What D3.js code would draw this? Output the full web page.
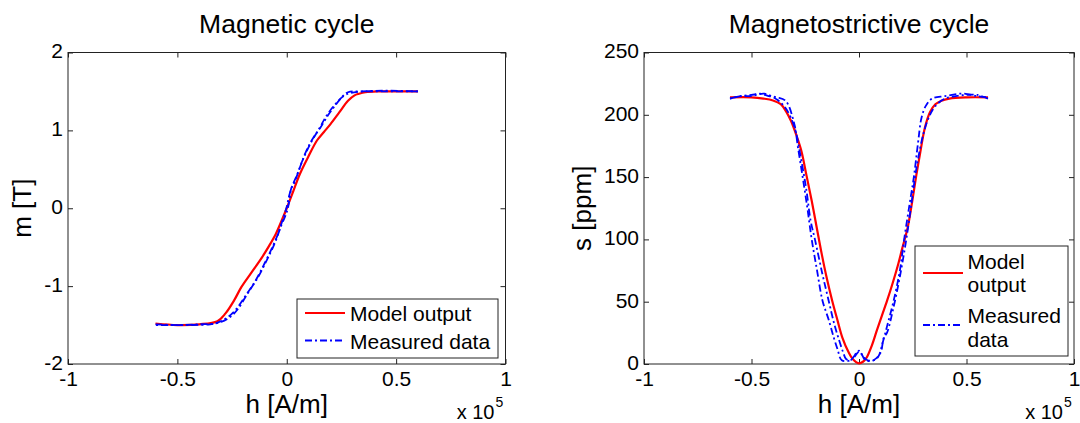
<!DOCTYPE html>
<html>
<head>
<meta charset="utf-8">
<script src="https://cdn.jsdelivr.net/npm/d3@7"></script>
<style>
  body { margin: 0; background: #fff; }
  svg { font-family: "Liberation Sans", Arial, Helvetica, sans-serif; }
</style>
</head>
<body>
<div id="chart"></div>
<script>
// axis ticks
const hTicks = [-1e5, -0.5e5, 0, 0.5e5, 1e5];
const mTicks = [-2, -1, 0, 1, 2];
const sTicks = [0, 50, 100, 150, 200, 250];

// magnetic cycle: [h (A/m), m (T)]
const magModel = [
    [-60000, -1.48], [-50000, -1.50], [-40000, -1.49], [-31700, -1.45], [-28000, -1.35],
    [-24000, -1.18], [-20700, -1.01], [-16000, -0.82], [-11300, -0.63], [-8000, -0.48],
    [-5000, -0.33], [-2500, -0.17], [0, 0.0], [3000, 0.22], [6000, 0.44], [10000, 0.67],
    [13800, 0.87], [17000, 0.98], [20000, 1.08], [24000, 1.23], [28000, 1.38],
    [31000, 1.45], [33000, 1.47], [36000, 1.49], [42000, 1.50], [60000, 1.50]
];
const magMeasUp = [
    [-60000, -1.49], [-50000, -1.50], [-40000, -1.49], [-33000, -1.48], [-30000, -1.45],
    [-27000, -1.40], [-23500, -1.31], [-19000, -1.13], [-14100, -0.92], [-10000, -0.70],
    [-6600, -0.50], [-4000, -0.33], [-1900, -0.15], [0, 0.02], [1000, 0.15], [2300, 0.27],
    [5000, 0.45], [9000, 0.74], [12000, 0.90], [15500, 1.04], [19000, 1.20], [21600, 1.30],
    [25000, 1.42], [28000, 1.49], [34000, 1.50], [45000, 1.51], [60000, 1.50]
];
const magMeasDown = [
    [60000, 1.50], [45000, 1.50], [35000, 1.50], [29000, 1.48], [26000, 1.44], [22000, 1.33],
    [18000, 1.18], [15000, 1.03], [11000, 0.84], [7000, 0.60], [3500, 0.33], [2000, 0.25],
    [1200, 0.10], [0, -0.05], [-2500, -0.22], [-5500, -0.45], [-9000, -0.66], [-13000, -0.88],
    [-18000, -1.10], [-22500, -1.30], [-26000, -1.40], [-30000, -1.46], [-35000, -1.49],
    [-45000, -1.50], [-60000, -1.50]
];

// magnetostrictive cycle: [h (A/m), s (ppm)]
const strModel = [
    [-60000, 214], [-50000, 214], [-44400, 213], [-40000, 211.5], [-36400, 208.6], [-34000, 203],
    [-31600, 195], [-29000, 183], [-26800, 171], [-24500, 152], [-22000, 131], [-19500, 108],
    [-17300, 88], [-15000, 69], [-12500, 51], [-10000, 35], [-7700, 21], [-5000, 10],
    [-2900, 4], [0, 0.5], [2000, 2], [3500, 5], [6000, 15], [8300, 27], [10700, 39],
    [13100, 51], [15500, 64], [17900, 78], [20000, 92], [22700, 110], [24700, 130],
    [26700, 152], [28700, 172], [30700, 190], [33000, 202], [35500, 208.5], [38000, 211],
    [42000, 213], [50000, 214], [60000, 214]
];
const strMeasUp = [
    [-60000, 213], [-55000, 215], [-50000, 215], [-44000, 217], [-38000, 212], [-34000, 205],
    [-30000, 190], [-27000, 165], [-24500, 140], [-22500, 115], [-20500, 100], [-17000, 72],
    [-14000, 50], [-11500, 32], [-9600, 21], [-7500, 10], [-6000, 4], [-4000, 3], [-2000, 6],
    [0, 10], [2000, 6], [4000, 3], [7000, 3], [9000, 6], [11000, 17], [13000, 30], [16000, 50],
    [19000, 75], [21000, 100], [23500, 128], [25500, 150], [27500, 178], [29000, 197],
    [31000, 207], [34000, 213], [40000, 215], [48000, 217], [55000, 215], [60000, 214]
];
const strMeasDown = [
    [60000, 213], [55000, 216], [50000, 216], [45000, 215], [40000, 213], [36000, 208],
    [33000, 200], [30000, 185], [27000, 160], [24500, 130], [22000, 100], [19000, 70],
    [16000, 45], [13000, 25], [11500, 21], [10000, 9], [6700, 3], [3000, 3], [0, 10.7],
    [-4000, 3], [-8000, 3], [-10000, 12], [-11700, 21], [-14000, 35], [-17000, 51],
    [-19500, 75], [-22000, 100], [-24000, 125], [-26200, 150], [-28500, 175], [-30000, 192],
    [-34000, 211], [-38000, 214], [-42000, 215], [-46000, 217], [-50000, 216], [-55000, 215],
    [-60000, 213]
];

const W = 1080, H = 423;
const plotTop = 52.5, plotBottom = 364;

const svg = d3.select("#chart").append("svg")
    .attr("width", W)
    .attr("height", H);

function drawPanel(cfg) {
    const x = d3.scaleLinear().domain([-1e5, 1e5]).range([cfg.left, cfg.right]);
    const y = d3.scaleLinear().domain(cfg.yDomain).range([plotBottom, plotTop]);
    const g = svg.append("g");
    const cx = (cfg.left + cfg.right) / 2;

    // ticks on all four sides, pointing inward
    g.append("g")
        .attr("transform", `translate(0,${plotBottom})`)
        .call(d3.axisBottom(x).tickValues(hTicks).tickSizeInner(-5).tickSizeOuter(0)
            .tickPadding(7).tickFormat(d => String(d / 1e5)));
    g.append("g")
        .attr("transform", `translate(0,${plotTop})`)
        .call(d3.axisTop(x).tickValues(hTicks).tickSizeInner(-5).tickSizeOuter(0).tickFormat(""));
    const yAx = g.append("g")
        .attr("transform", `translate(${cfg.left},0)`)
        .call(d3.axisLeft(y).tickValues(cfg.yTicks).tickSizeInner(-5).tickSizeOuter(0)
            .tickPadding(5).tickFormat(d => String(d)));
    yAx.selectAll(".tick text").attr("dy", "0.26em");
    g.append("g")
        .attr("transform", `translate(${cfg.right},0)`)
        .call(d3.axisRight(y).tickValues(cfg.yTicks).tickSizeInner(-5).tickSizeOuter(0).tickFormat(""));

    g.selectAll(".domain").remove();
    g.selectAll(".tick line").attr("stroke", "#222");
    g.selectAll(".tick text")
        .attr("font-size", 21)
        .attr("fill", "#000");
    g.selectAll("g").attr("font-family", null).attr("font-size", null);

    g.append("rect")
        .attr("x", cfg.left).attr("y", plotTop)
        .attr("width", cfg.right - cfg.left).attr("height", plotBottom - plotTop)
        .attr("fill", "none").attr("stroke", "#222").attr("stroke-width", 1);

    const line = d3.line()
        .x(d => x(d[0]))
        .y(d => y(d[1]))
        .curve(d3.curveCatmullRom.alpha(0.5));

    g.append("path")
        .attr("fill", "none").attr("stroke", "#ff0000").attr("stroke-width", 2.2)
        .attr("d", line(cfg.model));
    cfg.measured.forEach(branch => {
        g.append("path")
            .attr("fill", "none").attr("stroke", "#0000ff").attr("stroke-width", 1.8)
            .attr("stroke-dasharray", "7,3,2,3")
            .attr("d", line(branch));
    });

    // titles and labels
    g.append("text")
        .attr("x", cx).attr("y", 33)
        .attr("text-anchor", "middle").attr("font-size", 26.5)
        .text(cfg.title);
    g.append("text")
        .attr("x", cx).attr("y", 413)
        .attr("text-anchor", "middle").attr("font-size", 26)
        .text("h [A/m]");
    g.append("text")
        .attr("transform", `translate(${cfg.yLabelX},${(plotTop + plotBottom) / 2}) rotate(-90)`)
        .attr("text-anchor", "middle").attr("font-size", 26)
        .text(cfg.yLabel);
    g.append("text")
        .attr("x", cfg.right - 11).attr("y", 419)
        .attr("text-anchor", "end").attr("font-size", 20)
        .text("x 10");
    g.append("text")
        .attr("x", cfg.right - 10).attr("y", 407)
        .attr("font-size", 14)
        .text("5");

    // legend
    const L = cfg.legend;
    g.append("rect")
        .attr("x", L.x0).attr("y", L.y0)
        .attr("width", L.x1 - L.x0).attr("height", L.y1 - L.y0)
        .attr("fill", "#fff").attr("stroke", "#222").attr("stroke-width", 1);
    g.append("line")
        .attr("x1", L.lx0).attr("x2", L.lx1).attr("y1", L.redY).attr("y2", L.redY)
        .attr("stroke", "#ff0000").attr("stroke-width", 2.2);
    g.append("line")
        .attr("x1", L.lx0).attr("x2", L.lx1).attr("y1", L.blueY).attr("y2", L.blueY)
        .attr("stroke", "#0000ff").attr("stroke-width", 1.8).attr("stroke-dasharray", "7,3,2,3");
    L.texts.forEach(t => {
        g.append("text")
            .attr("x", L.tx).attr("y", t[1])
            .attr("font-size", 21)
            .text(t[0]);
    });
}

drawPanel({
    left: 68, right: 505.5,
    yDomain: [-2, 2], yTicks: mTicks,
    title: "Magnetic cycle", yLabel: "m [T]", yLabelX: 31,
    model: magModel, measured: [magMeasUp, magMeasDown],
    legend: {
        x0: 297, x1: 498, y0: 299, y1: 358,
        lx0: 305, lx1: 345, redY: 313, blueY: 340.5, tx: 350,
        texts: [["Model output", 321], ["Measured data", 349]]
    }
});

drawPanel({
    left: 644, right: 1074,
    yDomain: [0, 250], yTicks: sTicks,
    title: "Magnetostrictive cycle", yLabel: "s [ppm]", yLabelX: 591,
    model: strModel, measured: [strMeasUp, strMeasDown],
    legend: {
        x0: 915, x1: 1068, y0: 246, y1: 356,
        lx0: 923, lx1: 963, redY: 273, blueY: 325, tx: 967.5,
        texts: [["Model", 269], ["output", 292], ["Measured", 322.5], ["data", 346.5]]
    }
});
</script>
</body>
</html>
